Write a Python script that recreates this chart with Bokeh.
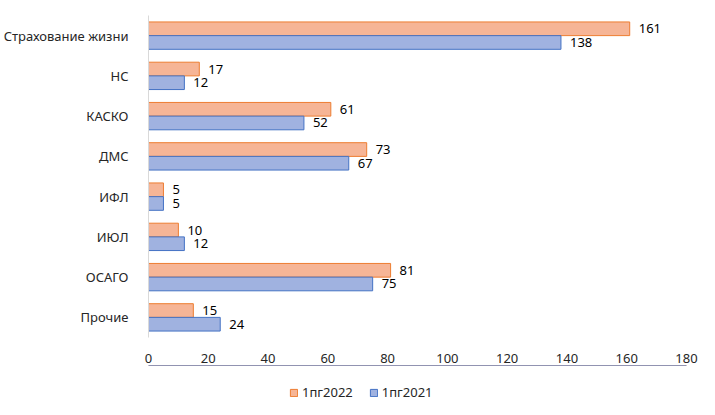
from bokeh.plotting import figure
from bokeh.layouts import column
from bokeh.models import ColumnDataSource, FactorRange, Range1d, Legend, LegendItem, FixedTicker
from bokeh.transform import dodge
from bokeh.core.properties import value
from bokeh.embed import file_html
from bokeh.resources import INLINE

categories = ["Страхование жизни", "НС", "КАСКО", "ДМС", "ИФЛ", "ИЮЛ", "ОСАГО", "Прочие"]
v2022 = [161, 17, 61, 73, 5, 10, 81, 15]
v2021 = [138, 12, 52, 67, 5, 12, 75, 24]
series_names = ["1пг2022", "1пг2021"]
x_ticks = [0, 20, 40, 60, 80, 100, 120, 140, 160, 180]

FONT = "Noto Sans"
C22_FILL, C22_LINE = "#F6B596", "#ED7D31"
C21_FILL, C21_LINE = "#A0B2E0", "#4472C4"

src = ColumnDataSource(dict(
    cat=categories,
    v2022=v2022,
    v2021=v2021,
    l2022=[str(v) for v in v2022],
    l2021=[str(v) for v in v2021],
))

p = figure(width=699, height=365, y_range=FactorRange(factors=list(reversed(categories)), range_padding=0),
           x_range=Range1d(0, 180), output_backend="svg", toolbar_location=None,
           min_border_left=148, min_border_right=13, min_border_top=15, min_border_bottom=25)
p.outline_line_color = None
p.xgrid.grid_line_color = None
p.ygrid.grid_line_color = None

bw = 0.34
r1 = p.hbar(y=dodge("cat", bw / 2, range=p.y_range), right="v2022", height=bw, source=src,
            fill_color=C22_FILL, line_color=C22_LINE, line_width=1)
r2 = p.hbar(y=dodge("cat", -bw / 2, range=p.y_range), right="v2021", height=bw, source=src,
            fill_color=C21_FILL, line_color=C21_LINE, line_width=1)

p.text(x="v2022", y=dodge("cat", bw / 2, range=p.y_range), text="l2022", source=src,
       x_offset=9, text_baseline="middle", text_font=value(FONT), text_font_size="13px",
       text_color="#000000")
p.text(x="v2021", y=dodge("cat", -bw / 2, range=p.y_range), text="l2021", source=src,
       x_offset=9, text_baseline="middle", text_font=value(FONT), text_font_size="13px",
       text_color="#000000")

p.xaxis.ticker = FixedTicker(ticks=x_ticks)
p.xaxis.axis_line_color = None
p.xaxis.major_tick_line_color = None
p.xaxis.minor_tick_line_color = None
p.xaxis.major_label_text_font = FONT
p.xaxis.major_label_text_font_size = "13px"
p.xaxis.major_label_text_color = "#262626"
p.xaxis.major_label_standoff = 10

p.yaxis.axis_line_color = "#D9D9D9"
p.yaxis.major_tick_line_color = None
p.yaxis.minor_tick_line_color = None
p.yaxis.major_label_text_font = FONT
p.yaxis.major_label_text_font_size = "13px"
p.yaxis.major_label_text_color = "#262626"
p.yaxis.major_label_standoff = 14

# legend strip below the chart (its frame is aligned with the chart frame by the column layout)
leg_src = ColumnDataSource(dict(y=[5], right=[5]))
q = figure(width=699, height=45, x_range=Range1d(0, 1), y_range=Range1d(0, 1),
           output_backend="svg", toolbar_location=None, x_axis_type=None, y_axis_type=None,
           min_border=0)
q.outline_line_color = None
q.xgrid.grid_line_color = None
q.ygrid.grid_line_color = None
d1 = q.hbar(y="y", right="right", height=1, source=leg_src, fill_color=C22_FILL, line_color=C22_LINE)
d2 = q.hbar(y="y", right="right", height=1, source=leg_src, fill_color=C21_FILL, line_color=C21_LINE)

legend = Legend(items=[LegendItem(label=series_names[0], renderers=[d1]),
                       LegendItem(label=series_names[1], renderers=[d2])],
                orientation="horizontal", location=(141, 9),
                glyph_width=9, glyph_height=9, label_text_font=FONT,
                label_text_font_size="13px", label_text_color="#262626",
                border_line_color=None, background_fill_alpha=0, spacing=16, padding=4, margin=0,
                label_standoff=4)
q.add_layout(legend, "center")

layout = column(p, q, spacing=0)
open("out.html", "w").write(file_html(layout, INLINE))
